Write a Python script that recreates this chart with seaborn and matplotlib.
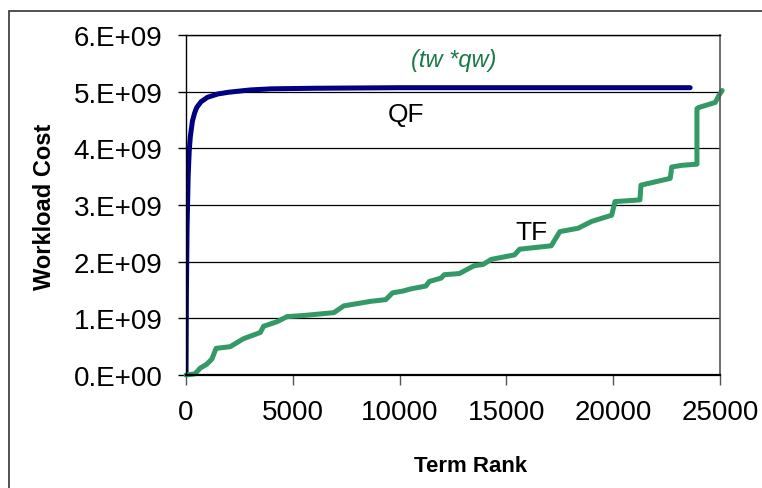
import pandas as pd
import seaborn as sns
import matplotlib.pyplot as plt
from matplotlib.patches import Rectangle
from matplotlib.ticker import FuncFormatter

# ------------------- Data -------------------
qf_rank = [0, 20, 50, 100, 150, 200, 300, 400, 500, 700, 1000, 1500, 2000,
           2500, 3000, 4000, 6000, 10000, 15000, 20000, 23600]
qf_cost = [0, 1.5e9, 2.6e9, 3.5e9, 3.95e9, 4.2e9, 4.48e9, 4.62e9, 4.72e9,
           4.82e9, 4.9e9, 4.96e9, 4.99e9, 5.01e9, 5.03e9, 5.05e9, 5.06e9,
           5.07e9, 5.07e9, 5.07e9, 5.07e9]

tf_rank = [0, 420, 660, 970, 1210, 1410, 2070, 2690, 3480, 3630, 4260, 4730,
           5510, 6920, 7390, 8650, 9350, 9670, 10140, 10530, 11230, 11390,
           11940, 12090, 12800, 13190, 13500, 13900, 14290, 15380, 15620,
           17100, 17500, 18360, 18990, 19930, 20080, 21250, 21300, 22670,
           22740, 23210, 23920, 23920, 24000, 24780, 24940, 25100]
tf_cost = [0, 0.02e9, 0.12e9, 0.19e9, 0.28e9, 0.47e9, 0.50e9, 0.64e9, 0.75e9,
           0.86e9, 0.94e9, 1.03e9, 1.05e9, 1.10e9, 1.22e9, 1.30e9, 1.33e9,
           1.45e9, 1.48e9, 1.52e9, 1.57e9, 1.65e9, 1.71e9, 1.77e9, 1.79e9,
           1.87e9, 1.93e9, 1.95e9, 2.04e9, 2.12e9, 2.22e9, 2.28e9, 2.53e9,
           2.59e9, 2.71e9, 2.82e9, 3.06e9, 3.09e9, 3.35e9, 3.47e9, 3.67e9,
           3.70e9, 3.72e9, 4.70e9, 4.72e9, 4.81e9, 4.93e9, 5.02e9]

x_ticks = [0, 5000, 10000, 15000, 20000, 25000]
y_ticks = [0, 1e9, 2e9, 3e9, 4e9, 5e9, 6e9]

qf = pd.DataFrame({'rank': qf_rank, 'cost': qf_cost})
tf = pd.DataFrame({'rank': tf_rank, 'cost': tf_cost})

# ------------------- Style -------------------
sns.set_theme(style='white')
plt.rcParams['font.family'] = ['Liberation Sans', 'DejaVu Sans']
plt.rcParams['text.color'] = 'black'
plt.rcParams['xtick.color'] = 'black'
plt.rcParams['ytick.color'] = 'black'

fig = plt.figure(figsize=(7.62, 4.89), dpi=100)
ax = fig.add_axes([0.2441, 0.2311, 0.7008, 0.6953])

# outer chart border (Excel style)
fig.patches.append(Rectangle((9 / 762, -0.05), 1.0, 0.05 + 1 - 12 / 489,
                             transform=fig.transFigure, fill=False,
                             edgecolor='#333333', linewidth=1.2))

# ------------------- Lines -------------------
sns.lineplot(data=qf, x='rank', y='cost', sort=False, estimator=None,
             color='#000080', linewidth=3.6, ax=ax)
sns.lineplot(data=tf, x='rank', y='cost', sort=False, estimator=None,
             color='#339966', linewidth=3.6, ax=ax, clip_on=False)

# ------------------- Axes -------------------
ax.set_xlim(0, 25000)
ax.set_ylim(0, 6e9)
ax.set_xticks(x_ticks)
ax.set_yticks(y_ticks)
ax.yaxis.set_major_formatter(
    FuncFormatter(lambda v, p: '0.E+00' if v == 0 else f'{int(round(v / 1e9))}.E+09'))
ax.tick_params(axis='y', direction='out', length=6, width=1, color='black',
               labelcolor='black', labelsize=20, pad=11, left=True)
ax.tick_params(axis='x', direction='out', length=7, width=1, color='#555555',
               labelcolor='black', labelsize=20, pad=10, bottom=True)

ax.grid(axis='y', color='black', linewidth=0.9)
ax.grid(axis='x', visible=False)
for side in ['left', 'bottom', 'top']:
    ax.spines[side].set_color('black')
    ax.spines[side].set_linewidth(1.0)
ax.spines['bottom'].set_linewidth(1.6)
ax.spines['right'].set_color('#555555')
ax.spines['right'].set_linewidth(1.2)

ax.set_xlabel('')
ax.set_ylabel('')
fig.text(471 / 762, 1 - 467 / 489, 'Term Rank', ha='center', va='center',
         fontsize=16, fontweight='bold')
fig.text(44.5 / 762, 1 - 206.5 / 489, 'Workload Cost', ha='center', va='center',
         rotation=90, fontsize=17, fontweight='bold')

# ------------------- Annotations -------------------
ax.text(10300, 4.6e9, 'QF', fontsize=19, ha='center', va='center')
ax.text(16150, 2.52e9, 'TF', fontsize=19, ha='center', va='center')
ax.text(12550, 5.56e9, '(tw *qw)', fontsize=17, style='italic',
        color='#1a7a47', ha='center', va='center')

plt.savefig('out.png', dpi=100)
